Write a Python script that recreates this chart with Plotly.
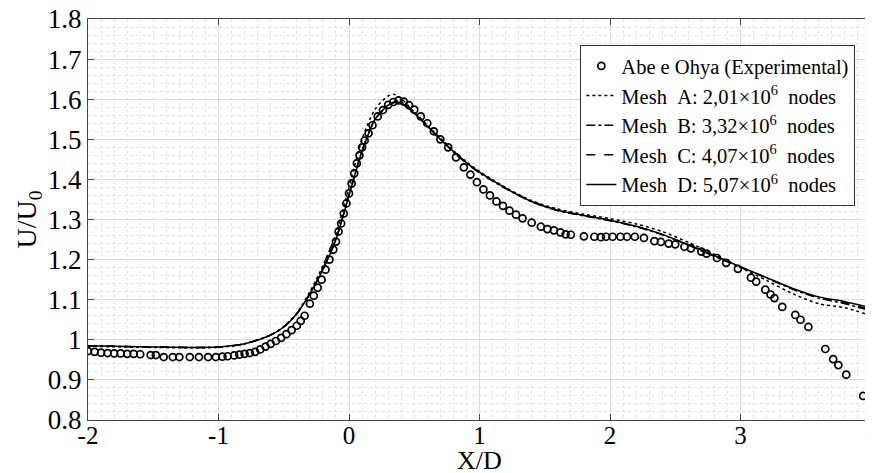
import plotly.graph_objects as go

# experimental data (Abe e Ohya)
exp_x = [-2.0, -1.95, -1.9, -1.85, -1.8, -1.75, -1.7, -1.65, -1.6, -1.52, -1.48, -1.42, -1.35,
         -1.3, -1.22, -1.15, -1.08, -1.02, -0.97, -0.93, -0.88, -0.84, -0.8, -0.76, -0.72,
         -0.68, -0.64, -0.6, -0.56, -0.52, -0.48, -0.44, -0.4, -0.37, -0.34, -0.3, -0.27,
         -0.24, -0.21, -0.18, -0.15, -0.12, -0.1, -0.08, -0.06, -0.04, -0.02, 0.0, 0.02,
         0.04, 0.06, 0.08, 0.1, 0.12, 0.15, 0.18, 0.22, 0.26, 0.3, 0.34, 0.38, 0.42, 0.46,
         0.5, 0.55, 0.6, 0.65, 0.7, 0.76, 0.82, 0.88, 0.93, 0.98, 1.03, 1.08, 1.13, 1.18,
         1.23, 1.28, 1.33, 1.4, 1.47, 1.52, 1.57, 1.62, 1.66, 1.7, 1.8, 1.88, 1.93, 1.97,
         2.02, 2.08, 2.13, 2.19, 2.26, 2.34, 2.39, 2.45, 2.5, 2.57, 2.62, 2.7, 2.74, 2.82,
         2.89, 2.98, 3.08, 3.12, 3.19, 3.23, 3.26, 3.32, 3.42, 3.46, 3.52, 3.65, 3.71, 3.75,
         3.81, 3.94]
exp_y = [0.972, 0.970, 0.968, 0.967, 0.966, 0.966, 0.965, 0.965, 0.964, 0.962, 0.962, 0.957, 0.957,
         0.957, 0.957, 0.957, 0.957, 0.957, 0.958, 0.959, 0.961, 0.963, 0.965, 0.967, 0.970,
         0.976, 0.983, 0.990, 0.997, 1.005, 1.014, 1.024, 1.035, 1.047, 1.060, 1.090, 1.110,
         1.130, 1.150, 1.175, 1.200, 1.225, 1.245, 1.270, 1.290, 1.315, 1.340, 1.365, 1.390,
         1.415, 1.440, 1.460, 1.480, 1.497, 1.515, 1.535, 1.557, 1.573, 1.586, 1.593, 1.597, 1.594, 1.585,
         1.574, 1.557, 1.540, 1.520, 1.500, 1.480, 1.455, 1.430, 1.412, 1.393, 1.375, 1.360, 1.345, 1.334,
         1.322, 1.312, 1.303, 1.292, 1.282, 1.276, 1.273, 1.268, 1.263, 1.262, 1.258, 1.257, 1.256, 1.257,
         1.257, 1.257, 1.257, 1.257, 1.254, 1.246, 1.244, 1.240, 1.238, 1.232, 1.228, 1.220, 1.215, 1.204,
         1.192, 1.177, 1.155, 1.145, 1.125, 1.113, 1.104, 1.082, 1.062, 1.050, 1.032, 0.977, 0.952, 0.937,
         0.913, 0.860]

# CFD meshes
mesh_x = [-2.0, -1.5, -1.2, -1.0, -0.8, -0.6, -0.5, -0.4, -0.3, -0.2, -0.1, 0.0, 0.1, 0.2, 0.3,
          0.35, 0.4, 0.5, 0.6, 0.7, 0.8, 0.9, 1.0, 1.2, 1.4, 1.6, 1.8, 2.0, 2.2, 2.4, 2.6, 2.8,
          3.0, 3.2, 3.4, 3.6, 3.8, 4.0]
mesh_a = [0.984, 0.981, 0.980, 0.981, 0.990, 1.012, 1.033, 1.067, 1.120, 1.185, 1.265, 1.380, 1.500, 1.575, 1.608,
          1.612, 1.602, 1.568, 1.535, 1.503, 1.472, 1.444, 1.420, 1.380, 1.347, 1.326, 1.313, 1.302, 1.289, 1.270, 1.243, 1.213,
          1.180, 1.148, 1.115, 1.090, 1.080, 1.060]
mesh_b = [0.985, 0.982, 0.981, 0.982, 0.990, 1.012, 1.032, 1.065, 1.115, 1.177, 1.252, 1.362, 1.472, 1.550, 1.585,
          1.593, 1.593, 1.566, 1.533, 1.500, 1.468, 1.440, 1.416, 1.377, 1.344, 1.322, 1.309, 1.297, 1.282, 1.262, 1.236, 1.208,
          1.181, 1.154, 1.126, 1.104, 1.090, 1.072]
mesh_c = [0.985, 0.982, 0.981, 0.982, 0.990, 1.012, 1.032, 1.065, 1.114, 1.176, 1.251, 1.361, 1.471, 1.549, 1.585,
          1.594, 1.594, 1.567, 1.534, 1.501, 1.469, 1.441, 1.417, 1.378, 1.345, 1.323, 1.310, 1.298, 1.283, 1.263, 1.237, 1.209,
          1.182, 1.155, 1.127, 1.105, 1.092, 1.075]
mesh_d = [0.985, 0.982, 0.981, 0.982, 0.990, 1.012, 1.032, 1.065, 1.115, 1.175, 1.250, 1.360, 1.470, 1.550, 1.585,
          1.592, 1.590, 1.565, 1.533, 1.500, 1.470, 1.442, 1.418, 1.378, 1.345, 1.323, 1.310, 1.298, 1.283, 1.263, 1.237, 1.210,
          1.182, 1.155, 1.128, 1.107, 1.095, 1.080]

x_ticks = [-2, -1, 0, 1, 2, 3, 4]
x_tick_labels = ["-2", "-1", "0", "1", "2", "3", "4"]
y_ticks = [0.8, 0.9, 1.0, 1.1, 1.2, 1.3, 1.4, 1.5, 1.6, 1.7, 1.8]
y_tick_labels = ["0.8", "0.9", "1", "1.1", "1.2", "1.3", "1.4", "1.5", "1.6", "1.7", "1.8"]

font = "Liberation Serif, Times New Roman, serif"
sp = "\u00a0"

fig = go.Figure()

fig.add_trace(go.Scatter(
    x=exp_x, y=exp_y, mode="markers",
    name="Abe e Ohya (Experimental)",
    marker=dict(symbol="circle-open", size=7, color="black", line=dict(width=1.7)),
))

meshes = [
    ("A: 2,01", mesh_a, "dot"),
    ("B: 3,32", mesh_b, "dashdot"),
    ("C: 4,07", mesh_c, "dash"),
    ("D: 5,07", mesh_d, "solid"),
]
for label, ys, dash in meshes:
    fig.add_trace(go.Scatter(
        x=mesh_x, y=ys, mode="lines",
        name=f"Mesh{sp}{sp}{label}\u00d710<sup>6</sup>{sp}{sp}nodes",
        line=dict(color="black", width=1.5, dash=dash, shape="spline", smoothing=0.8),
    ))

axis_common = dict(
    showline=True, linecolor="#444", linewidth=1.2, mirror="ticks",
    ticks="inside", ticklen=6, tickcolor="#444",
    showgrid=True, gridcolor="#dcdcdc", gridwidth=1,
    zeroline=False, automargin=False, ticklabeloverflow="allow",
)

# the page body has an 8px margin, so the figure is a bit smaller than the window
fig.update_layout(
    width=865, height=465,
    margin=dict(l=80, r=2, t=11, b=53),
    paper_bgcolor="white", plot_bgcolor="white",
    font=dict(family=font, color="black"),
    showlegend=True,
    legend=dict(
        x=0.98, y=0.935, xanchor="right", yanchor="top",
        bgcolor="white", bordercolor="#333", borderwidth=1,
        font=dict(family=font, size=20.5, color="black"),
        tracegroupgap=0,
    ),
    xaxis=dict(
        range=[-2, 4], tickvals=x_ticks, ticktext=x_tick_labels,
        tickfont=dict(family=font, size=25, color="black"),
        ticklabelstandoff=-7,
        minor=dict(dtick=0.1, showgrid=True, gridcolor="#e4e4e4", griddash="dot", ticks=""),
        **axis_common,
    ),
    yaxis=dict(
        range=[0.8, 1.8], tickvals=y_ticks, ticktext=y_tick_labels,
        tickfont=dict(family=font, size=27, color="black"),
        title=dict(text="U/U<sub>0</sub>", font=dict(family=font, size=28), standoff=2),
        minor=dict(dtick=0.02, showgrid=True, gridcolor="#e4e4e4", griddash="dot", ticks=""),
        **axis_common,
    ),
    annotations=[dict(
        text="X/D", xref="paper", yref="paper", x=0.5, y=-0.1,
        xanchor="center", yanchor="middle", showarrow=False,
        font=dict(family=font, size=26, color="black"),
    )],
)

fig.write_html("out.html")
